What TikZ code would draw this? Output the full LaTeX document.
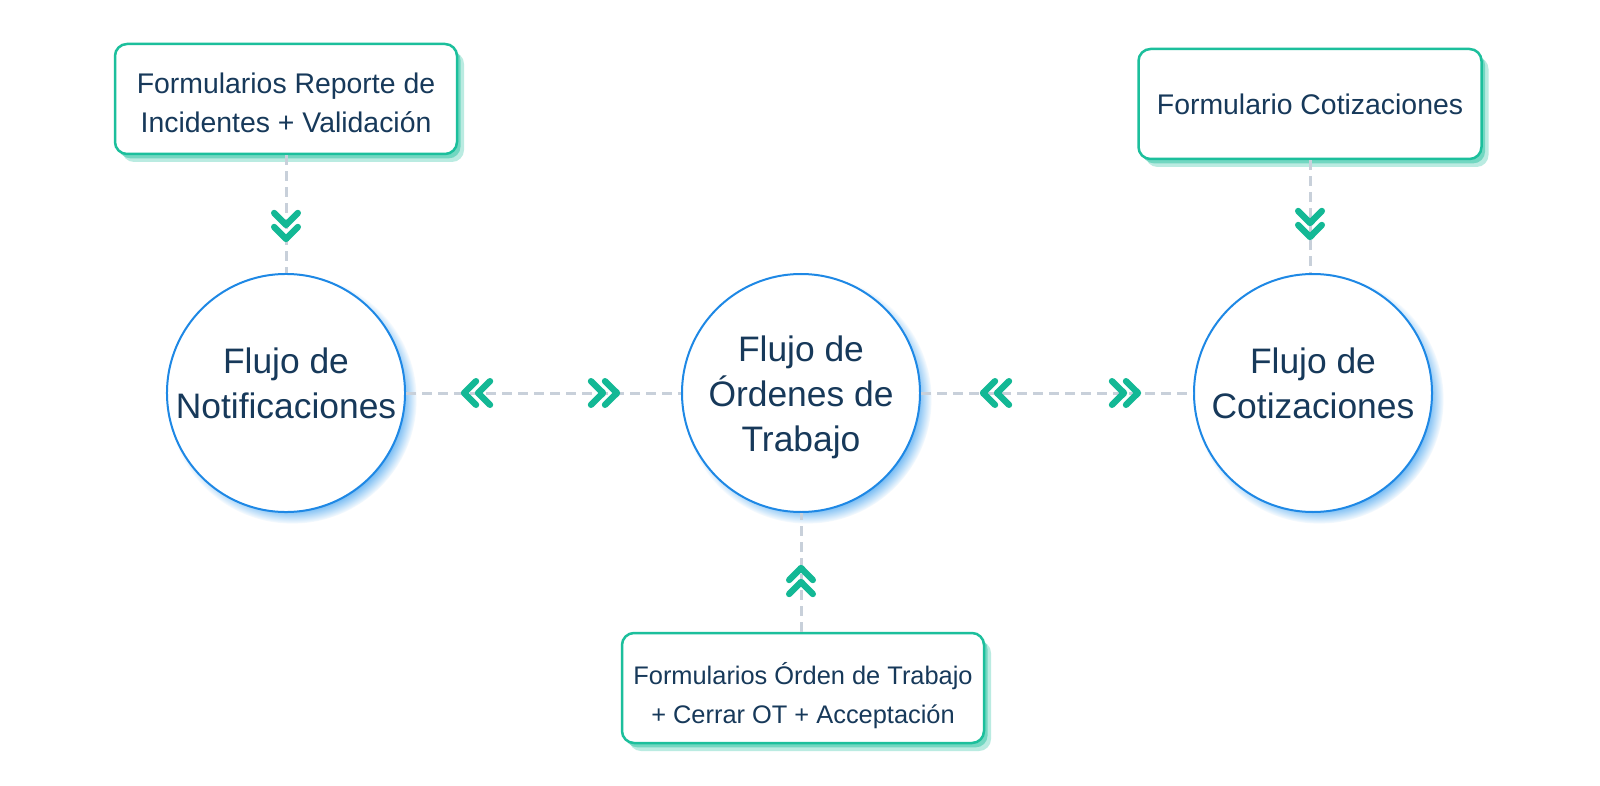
\documentclass[tikz,border=0pt]{standalone}
\usepackage{fontspec}
\setmainfont{Liberation Sans}
\usepackage{tikz}
\usetikzlibrary{
  shapes.geometric,
  positioning,
  shadows,
  fadings,
  decorations.markings
}
\definecolor{flowblue}{HTML}{1E88E5}
\definecolor{glowblue}{HTML}{4FA8F0}
\definecolor{formteal}{HTML}{1CBF9C}
\definecolor{chevteal}{HTML}{13B895}
\definecolor{dashgray}{HTML}{C8D0DA}
\definecolor{inkblue}{HTML}{17395A}

\newcommand\chevs{%
  \draw[chevron] (-6pt,5.9pt) -- (0pt,0pt) -- (-6pt,-5.9pt)
                 (-13pt,5.9pt) -- (-7pt,0pt) -- (-13pt,-5.9pt);}
\newcommand\padtop[1]{\rule{0pt}{#1}}
\newcommand\padbot[1]{\rule[-#1]{0pt}{0pt}}

\tikzset{
  chevron/.style={draw=chevteal,line width=3.2pt,line cap=round,line join=round,solid},
  fwd/.style={postaction={decorate,decoration={markings,
      mark=at position #1 with {\chevs}}}},
  bwd/.style={postaction={decorate,decoration={markings,
      mark=at position #1 with {\begin{scope}[rotate=180]\chevs\end{scope}}}}},
  flow/.style={circle,draw=flowblue,line width=1pt,fill=white,
      minimum size=119pt,inner sep=0pt,text=inkblue,align=center,
      font=\fontsize{17.7}{22.5}\selectfont,
      circular drop shadow={fill=glowblue,shadow scale=1.045,
        shadow xshift=3pt,shadow yshift=-3pt,opacity=1}},
  form/.style={rectangle,rounded corners=6pt,draw=formteal,line width=1.25pt,
      fill=white,minimum height=55pt,inner sep=2pt,text=inkblue,align=center,
      font=\fontsize{14.2}{19.5}\selectfont,
      general shadow={fill=formteal,opacity=.3,shadow xshift=3.5pt,shadow yshift=-4pt},
      general shadow={fill=formteal,opacity=.45,shadow xshift=1.8pt,shadow yshift=-2.2pt}}
}

\begin{document}
\begin{tikzpicture}[x=0.5pt,y=-0.5pt]
\fill[white] (0,0) rectangle (1600,786);
\useasboundingbox (0,0) rectangle (1600,786);

\begin{scope}[every node/.style={flow}]
    \node (N) at (286,393) {Flujo de\\Notificaciones\padbot{10pt}};
    \node (O) at (801,393) {\padtop{16.8pt}Flujo de\\Órdenes de\\Trabajo};
    \node (C) at (1313,393) {Flujo de\\Cotizaciones\padbot{10pt}};
\end{scope}

\begin{scope}[every node/.style={form}]
    \node[minimum width=171pt] (FN) at (286,99) {\padtop{14.4pt}Formularios Reporte de\\Incidentes + Validación};
    \node[minimum width=171.5pt] (FC) at (1310,104) {Formulario Cotizaciones};
    \node[minimum width=181pt,font=\fontsize{12.7}{19.5}\selectfont] (FO) at (803,688)
        {\padtop{18.5pt}Formularios Órden de Trabajo\\+ Cerrar OT + Acceptación};
\end{scope}

\begin{scope}[every edge/.style={draw=dashgray,line width=1.5pt,dash pattern=on 5pt off 3pt}]
    \path (FN) edge[fwd=-17pt] (N);
    \path (FC) edge[fwd=-18pt] (FC.south |- C.north);
    \path (O.south |- FO.north) edge[fwd=-27.5pt] (O);
    \path (N) edge[bwd=29pt,fwd=-32pt] (O);
    \path (O) edge[bwd=31pt,fwd=-27.5pt] (C);
\end{scope}
\end{tikzpicture}
\end{document}
